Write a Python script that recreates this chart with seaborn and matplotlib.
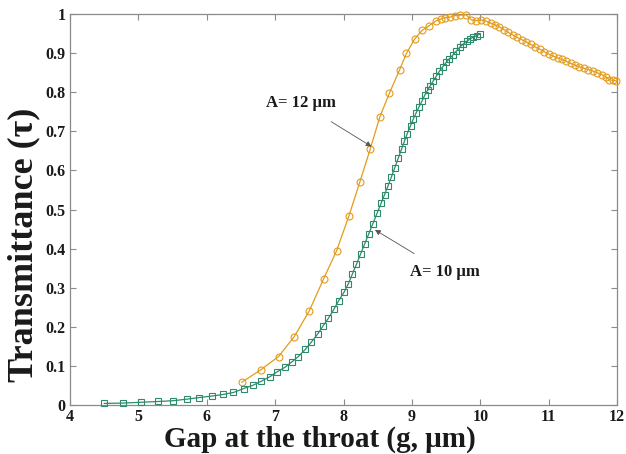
import numpy as np
import pandas as pd
import matplotlib
matplotlib.use("Agg")
import matplotlib.pyplot as plt
import seaborn as sns

# A = 10 um (green squares)
gap_10 = [4.50, 4.78, 5.04, 5.29, 5.51, 5.71, 5.89, 6.08, 6.24, 6.39, 6.54, 6.67, 6.80,
          6.92, 7.03, 7.14, 7.25, 7.34, 7.44, 7.53, 7.62, 7.70, 7.78, 7.86, 7.93, 8.01,
          8.07, 8.13, 8.19, 8.25, 8.31, 8.37, 8.43, 8.49, 8.55, 8.60, 8.65, 8.70, 8.75,
          8.80, 8.85, 8.89, 8.93, 8.98, 9.02, 9.06, 9.10, 9.15, 9.19, 9.23, 9.27, 9.31,
          9.36, 9.40, 9.45, 9.50, 9.55, 9.60, 9.65, 9.70, 9.75, 9.80, 9.85, 9.90, 9.95, 9.99]
tau_10 = [0.004, 0.005, 0.007, 0.009, 0.011, 0.015, 0.019, 0.023, 0.027, 0.032, 0.042, 0.050, 0.061,
          0.072, 0.085, 0.096, 0.111, 0.124, 0.142, 0.161, 0.181, 0.202, 0.222, 0.245, 0.267, 0.289,
          0.310, 0.335, 0.360, 0.386, 0.412, 0.438, 0.464, 0.490, 0.516, 0.538, 0.560, 0.583, 0.607,
          0.631, 0.655, 0.674, 0.693, 0.714, 0.731, 0.746, 0.761, 0.778, 0.793, 0.805, 0.817, 0.828,
          0.842, 0.853, 0.865, 0.876, 0.886, 0.895, 0.905, 0.915, 0.923, 0.930, 0.936, 0.941, 0.945, 0.948]

# A = 12 um (orange circles)
gap_12 = [6.51, 6.79, 7.05, 7.28, 7.50, 7.71, 7.90, 8.08, 8.24, 8.39, 8.53, 8.67, 8.82, 8.92,
          9.04, 9.15, 9.25, 9.35, 9.42, 9.49, 9.56, 9.63, 9.70, 9.79, 9.87, 9.94, 10.01, 10.08,
          10.15, 10.22, 10.28, 10.35, 10.41, 10.48, 10.54, 10.61, 10.67, 10.74, 10.80, 10.87,
          10.93, 11.00, 11.06, 11.13, 11.19, 11.26, 11.32, 11.39, 11.45, 11.52, 11.58, 11.65,
          11.71, 11.78, 11.84, 11.89, 11.94, 11.99]
tau_12 = [0.058, 0.090, 0.124, 0.175, 0.241, 0.323, 0.395, 0.484, 0.571, 0.654, 0.736, 0.797, 0.857, 0.899,
          0.936, 0.958, 0.970, 0.982, 0.987, 0.991, 0.992, 0.996, 0.997, 0.998, 0.985, 0.983, 0.985, 0.982,
          0.977, 0.972, 0.967, 0.960, 0.953, 0.946, 0.940, 0.934, 0.929, 0.922, 0.916, 0.910,
          0.904, 0.898, 0.893, 0.888, 0.884, 0.879, 0.874, 0.869, 0.865, 0.861, 0.858, 0.854,
          0.850, 0.845, 0.838, 0.832, 0.830, 0.829]

x_ticks = [4, 5, 6, 7, 8, 9, 10, 11, 12]
y_ticks = [0, 0.1, 0.2, 0.3, 0.4, 0.5, 0.6, 0.7, 0.8, 0.9, 1]
y_tick_labels = ["0", "0.1", "0.2", "0.3", "0.4", "0.5", "0.6", "0.7", "0.8", "0.9", "1"]

sns.set_style("ticks")
plt.rcParams["font.family"] = ["Liberation Serif", "DejaVu Serif"]
plt.rcParams["font.weight"] = "bold"

ORANGE = "#E39B1B"
GREEN = "#2F8A6C"

fig = plt.figure(figsize=(6.26, 4.54), dpi=100)
ax = fig.add_axes([70 / 626, 1 - 405 / 454, 547 / 626, 391 / 454])

df10 = pd.DataFrame({"gap": gap_10, "tau": tau_10})
df12 = pd.DataFrame({"gap": gap_12, "tau": tau_12})

sns.lineplot(data=df12, x="gap", y="tau", ax=ax, color=ORANGE, lw=0.9, marker="o",
             markersize=5, markerfacecolor="none", markeredgecolor=ORANGE,
             markeredgewidth=0.8, clip_on=False, zorder=3)
sns.lineplot(data=df10, x="gap", y="tau", ax=ax, color=GREEN, lw=0.9, marker="s",
             markersize=4.5, markerfacecolor="none", markeredgecolor=GREEN,
             markeredgewidth=0.8, clip_on=False, zorder=4)

ax.set_xlim(4, 12)
ax.set_ylim(0, 1)
ax.set_xticks(x_ticks)
ax.set_xticklabels([str(t) for t in x_ticks])
ax.set_yticks(y_ticks)
ax.set_yticklabels(y_tick_labels)

for s in ["top", "right", "left", "bottom"]:
    ax.spines[s].set_visible(True)
    ax.spines[s].set_color("#8a8a8a")
    ax.spines[s].set_linewidth(0.9)
ax.tick_params(direction="in", length=4, width=0.8, color="#8a8a8a",
               top=True, right=True, labelsize=11.5, labelcolor="#1a1a1a", pad=3)
for lab in ax.get_xticklabels() + ax.get_yticklabels():
    lab.set_fontweight("bold")

ax.set_xlabel("Gap at the throat (g, \u03bcm)", fontsize=21, fontweight="bold", color="#1a1a1a")
ax.set_ylabel("Transmittance (\u03c4)", fontsize=26, fontweight="bold", color="#1a1a1a")
ax.xaxis.set_label_coords(0.457, -0.052)
ax.yaxis.set_label_coords(-0.055, 0.41)

ax.annotate("A= 12 \u03bcm", xy=(8.41, 0.661), xytext=(7.38, 0.772),
            ha="center", va="center", fontsize=12, fontweight="bold", color="#1a1a1a",
            arrowprops=dict(arrowstyle="-|>", color="#555555", lw=0.6,
                            mutation_scale=8, shrinkA=10, shrinkB=0))
ax.annotate("A= 10 \u03bcm", xy=(8.46, 0.448), xytext=(9.48, 0.340),
            ha="center", va="center", fontsize=12, fontweight="bold", color="#1a1a1a",
            arrowprops=dict(arrowstyle="-|>", color="#555555", lw=0.6,
                            mutation_scale=8, shrinkA=10, shrinkB=0))

fig.savefig("out.png", dpi=100)
